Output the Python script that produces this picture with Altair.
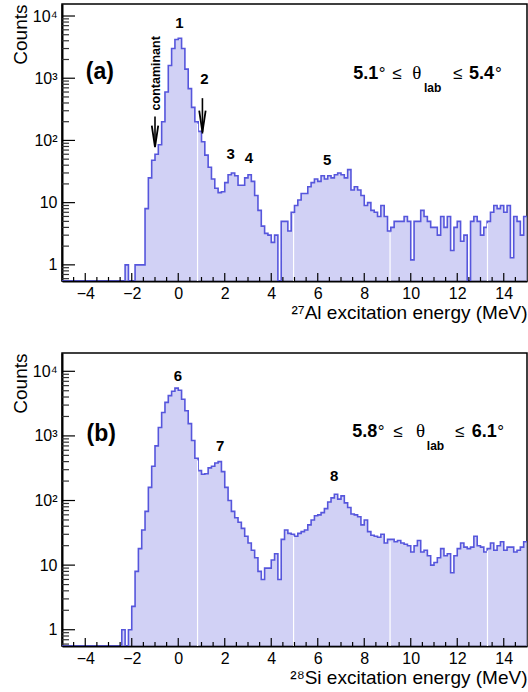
import altair as alt
import numpy as np
import pandas as pd

# ---------------- data ----------------
X_DOMAIN = [-5, 15]
x_label_values = [-4, -2, 0, 2, 4, 6, 8, 10, 12, 14]
y_label_values = [1, 10, 100, 1000, 10000]

# 27Al spectrum, 140 bins from -5 to 15 MeV
counts_al = [
    0, 0, 0, 0, 0, 0, 0, 0, 0, 0,
    0, 0, 0, 0, 0, 0, 0, 0, 0, 1,
    0, 0, 1, 1, 1, 8, 25, 48, 60, 85,
    200, 600, 1600, 3000, 4200, 4400, 3000, 1400, 680, 340,
    200, 140, 95, 58, 37, 24, 17, 14.5, 15, 21,
    28, 30, 27, 19, 19, 25, 28, 22, 13, 7.5,
    4.2, 3.2, 3, 2.3, 3, 0, 5, 5, 3.5, 7,
    9, 11, 14, 14, 18, 21, 24, 22, 27, 24,
    27, 25, 28, 30, 28, 25, 34, 16, 18, 16,
    13, 9, 10, 7.5, 7, 6, 9, 6, 3.5, 4,
    5, 5, 5, 6, 5, 1.2, 5, 5, 7.5, 6,
    5, 4, 4, 3, 6, 4, 6, 1.7, 4, 5,
    2.4, 3, 0, 5, 6, 5, 3, 4, 5, 7,
    9, 8, 9, 7, 9, 1.3, 6, 5, 3, 6,
]

# 28Si spectrum, 140 bins from -5 to 15 MeV
counts_si = [
    0, 0, 0, 0, 0, 0, 0, 0, 0, 0,
    0, 0, 0, 0, 0, 0, 0, 0, 1, 0,
    1, 2.3, 8, 18, 35, 68, 160, 340, 700, 1350,
    2300, 3300, 4200, 4900, 5500, 5100, 3700, 2450, 1550, 850,
    450, 290, 255, 260, 320, 340, 380, 400, 280, 160,
    100, 68, 54, 46, 37, 28, 22, 17, 13, 8,
    6, 9, 9, 12, 15, 6, 25, 35, 31, 30,
    28, 31, 33, 35, 42, 50, 58, 60, 65, 75,
    95, 110, 125, 105, 118, 92, 78, 62, 60, 56,
    42, 50, 33, 29, 28, 27, 30, 22, 25, 25,
    23, 24, 22, 21, 20, 16, 20, 24, 16, 17,
    14, 10, 11, 13, 18, 14, 15, 7.6, 14, 18,
    22, 19, 18, 19, 28, 20, 19, 16, 18, 22,
    17, 20, 23, 17, 19, 19, 16, 17, 19, 23,
]

# peak labels
peaks_a_text = ["1", "2", "3", "4", "5"]
peaks_a_x = [0.05, 1.13, 2.25, 3.04, 6.41]
peaks_a_y = [6300, 820, 51, 43, 41]
peaks_b_text = ["6", "7", "8"]
peaks_b_x = [-0.01, 1.8, 6.71]
peaks_b_y = [7100, 585, 200]

# arrows in panel (a): contaminant, state 2
arrow_x = [-1.0, 1.04]
arrow_top = [243, 478]
arrow_tip = [80, 129]
arrow_head = [116, 202]

# white seams of the fill pattern
seam_x = [0.83, 4.96, 9.11, 13.3]

# ---------------- style ----------------
FILL = "#bdbdf1"
LINE = "#5656dc"
FONT = "Liberation Sans"
W = 465
HA, HB = 277, 293


def hist_df(counts):
    n = len(counts)
    edges = np.linspace(X_DOMAIN[0], X_DOMAIN[1], n + 1)
    c = [v if v > 0 else 0.01 for v in counts]
    return pd.DataFrame({"x": list(edges), "count": c + [c[-1]]})


def seam_df(counts):
    n = len(counts)
    width = (X_DOMAIN[1] - X_DOMAIN[0]) / n
    rows = []
    for sx in seam_x:
        i = int((sx - X_DOMAIN[0]) / width)
        v = counts[i]
        if v > 0:
            rows.append({"x": sx, "count": v * 0.93})
    return pd.DataFrame(rows)


def text_layer(df, xs, ys, **kw):
    return alt.Chart(df).mark_text(font=FONT, color="black", **kw).encode(
        x=alt.X("x:Q", scale=xs),
        y=alt.Y("count:Q", scale=ys),
        text="t:N",
    )


def panel(counts, ydom, H, xtitle, plabel, plabel_xy, peaks, theta, theta_y, lab_y, arrows=None, contaminant=None):
    xs = alt.Scale(domain=X_DOMAIN, nice=False, zero=False)
    ys = alt.Scale(type="log", domain=ydom, nice=False, clamp=True)

    label_expr = ("datum.value == 1 ? '1' : datum.value == 10 ? '10' : "
                  "datum.value == 100 ? '10²' : datum.value == 1000 ? '10³' : '10⁴'")

    hist = alt.Chart(hist_df(counts)).mark_area(
        interpolate="step-after", color=FILL, clip=True,
        line=alt.OverlayMarkDef(color=LINE, strokeWidth=1.6, clip=True),
    ).encode(
        x=alt.X("x:Q", scale=xs, axis=alt.Axis(
            values=x_label_values, ticks=False, grid=False, title=xtitle,
            titleX=W, titleY=37, titleAlign="right", titleBaseline="alphabetic",
            labelPadding=4)),
        y=alt.Y("count:Q", scale=ys, axis=alt.Axis(
            values=y_label_values, labelExpr=label_expr, ticks=False, grid=False,
            title="Counts", titleX=-36, titleY=0, titleAlign="right",
            titleAngle=270, titleBaseline="alphabetic", labelPadding=5)),
        y2=alt.value(H),
    )

    seams = alt.Chart(seam_df(counts)).mark_rule(color="white", strokeWidth=1.2).encode(
        x=alt.X("x:Q", scale=xs),
        y=alt.Y("count:Q", scale=ys),
        y2=alt.value(H),
    )

    x_major = [v for v in x_label_values]
    x_minor = [v for v in np.arange(-4.5, 15.0, 0.5) if v not in x_major]
    xt_major = alt.Chart(pd.DataFrame({"x": x_major})).mark_rule(color="black", strokeWidth=1.2).encode(
        x=alt.X("x:Q", scale=xs), y=alt.value(H), y2=alt.value(H - 8))
    xt_minor = alt.Chart(pd.DataFrame({"x": x_minor})).mark_rule(color="black", strokeWidth=1.2).encode(
        x=alt.X("x:Q", scale=xs), y=alt.value(H), y2=alt.value(H - 4))

    y_minor = [k * 10.0 ** e for e in range(-1, 5) for k in range(2, 10)
               if ydom[0] <= k * 10.0 ** e <= ydom[1]]
    yt_major = alt.Chart(pd.DataFrame({"count": y_label_values})).mark_rule(color="black", strokeWidth=1.2).encode(
        y=alt.Y("count:Q", scale=ys), x=alt.value(0), x2=alt.value(13))
    yt_minor = alt.Chart(pd.DataFrame({"count": y_minor})).mark_rule(color="#333333", strokeWidth=1.2).encode(
        y=alt.Y("count:Q", scale=ys), x=alt.value(0), x2=alt.value(7))

    layers = [hist, seams, xt_major, xt_minor, yt_major, yt_minor]

    layers.append(text_layer(pd.DataFrame({"x": [plabel_xy[0]], "count": [plabel_xy[1]], "t": [plabel]}),
                             xs, ys, fontSize=23, fontWeight="bold", baseline="middle", align="center"))
    layers.append(text_layer(pd.DataFrame({"x": peaks[1], "count": peaks[2], "t": peaks[0]}),
                             xs, ys, fontSize=15, fontWeight="bold", baseline="alphabetic", align="center"))

    for t, x, kind in theta:
        df = pd.DataFrame({"x": [x], "count": [lab_y if kind == "sub" else theta_y], "t": [t]})
        if kind == "bold":
            layers.append(text_layer(df, xs, ys, fontSize=18, fontWeight="bold", baseline="alphabetic", align="left"))
        elif kind == "sub":
            layers.append(text_layer(df, xs, ys, fontSize=12, fontWeight="bold", baseline="alphabetic", align="left"))
        elif kind == "serif":
            layers.append(alt.Chart(df).mark_text(font="Liberation Serif", fontSize=19, color="black",
                                                  baseline="alphabetic", align="left").encode(
                x=alt.X("x:Q", scale=xs), y=alt.Y("count:Q", scale=ys), text="t:N"))
        else:
            layers.append(text_layer(df, xs, ys, fontSize=17, baseline="alphabetic", align="left"))

    if arrows is not None:
        adf = pd.DataFrame({"x": arrows[0], "count": arrows[1], "tip": arrows[2], "head": arrows[3]})
        layers.append(alt.Chart(adf).mark_rule(color="black", strokeWidth=1.6).encode(
            x=alt.X("x:Q", scale=xs),
            y=alt.Y("count:Q", scale=ys), y2="tip:Q"))
        hdf = pd.DataFrame({"x": arrows[0], "count": arrows[3]})
        layers.append(alt.Chart(hdf).mark_point(
            shape="M-0.3,-1L0,1L0.3,-1", filled=False, color="black", strokeWidth=1.8,
            size=460, opacity=1).encode(
            x=alt.X("x:Q", scale=xs),
            y=alt.Y("count:Q", scale=ys)))
    if contaminant is not None:
        layers.append(text_layer(pd.DataFrame({"x": [contaminant[0]], "count": [contaminant[1]], "t": ["contaminant"]}),
                                 xs, ys, fontSize=12.5, fontWeight="bold", baseline="middle",
                                 align="center", angle=270))

    return alt.layer(*layers).properties(width=W, height=H)


theta_a = [("5.1", 7.53, "bold"), ("°", 8.62, "normal"), ("≤", 9.20, "normal"),
           ("θ", 10.06, "serif"), ("lab", 10.57, "sub"), ("≤", 11.82, "normal"),
           ("5.4", 12.50, "bold"), ("°", 13.62, "normal")]
theta_b = [("5.8", 7.48, "bold"), ("°", 8.58, "normal"), ("≤", 9.25, "normal"),
           ("θ", 10.23, "serif"), ("lab", 10.69, "sub"), ("≤", 11.90, "normal"),
           ("6.1", 12.62, "bold"), ("°", 13.72, "normal")]

panel_a = panel(counts_al, [0.55, 15600], HA, "²⁷Al excitation energy (MeV)", "(a)", (-3.37, 1240),
                (peaks_a_text, peaks_a_x, peaks_a_y), theta_a, 955, 610,
                arrows=(arrow_x, arrow_top, arrow_tip, arrow_head), contaminant=(-0.97, 1200))
panel_b = panel(counts_si, [0.56, 19200], HB, "²⁸Si excitation energy (MeV)", "(b)", (-3.31, 1070),
                (peaks_b_text, peaks_b_x, peaks_b_y), theta_b, 960, 600)

chart = alt.vconcat(panel_a, panel_b, spacing=29).properties(
    padding={"left": 10, "top": 3, "right": 0, "bottom": 0},
    background="white",
).configure_view(
    stroke="black", strokeWidth=1.5
).configure_axis(
    domainColor="black", domainWidth=2, labelFont=FONT, labelFontSize=16,
    labelColor="black", titleFont=FONT, titleFontSize=19, titleFontWeight="normal",
    titleColor="black",
)

chart.save("out.html", embed_options={"renderer": "svg", "actions": False})
